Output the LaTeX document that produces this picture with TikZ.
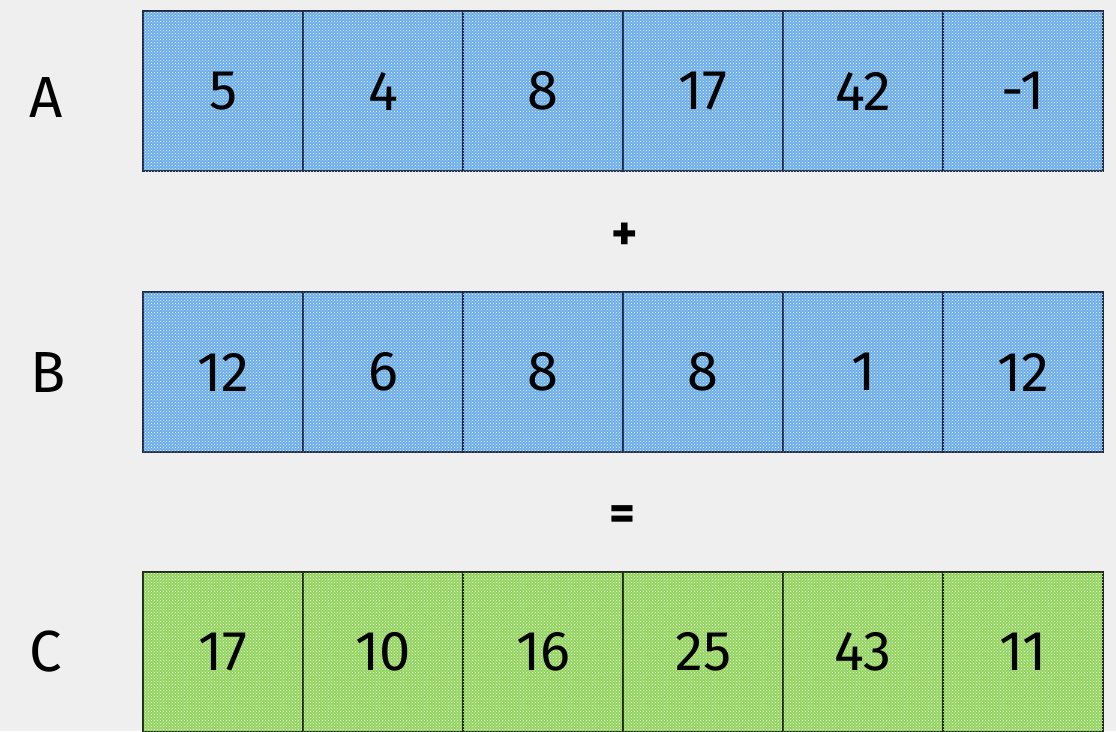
\documentclass[tikz,border=0pt]{standalone}
\usepackage{fontspec}
\setmainfont{Fira Sans}
\usetikzlibrary{patterns}
\definecolor{bg}{HTML}{EFEFEF}
\definecolor{bluefill}{HTML}{6DADEA}
\definecolor{greenfill}{HTML}{93D45F}
\definecolor{blueedge}{HTML}{1C2A48}
\definecolor{greenedge}{HTML}{1E2A16}
\tikzset{
  cellbox/.style={minimum width=160pt, minimum height=160pt, inner sep=0pt, line width=2.4pt,
    font=\fontsize{56}{60}\selectfont, text=black, anchor=north west},
  bluecell/.style={cellbox, draw=blueedge, fill=bluefill, postaction={pattern=crosshatch dots, pattern color=white!85!bluefill}},
  greencell/.style={cellbox, draw=greenedge, fill=greenfill, postaction={pattern=crosshatch dots, pattern color=white!85!greenfill}},
  rowlabel/.style={font=\fontsize{58}{60}\selectfont, text=black},
  opsign/.style={font=\fontsize{50}{54}\selectfont\bfseries, text=black}
}
\begin{document}
\begin{tikzpicture}[x=1pt,y=-1pt]
\useasboundingbox[fill=bg] (0,0) rectangle (1116,731);
\foreach \v [count=\i] in {5,4,8,17,42,-1}{
  \node[bluecell] (a\i) at ({142+160*(\i-1)},10) {\v};
}
\foreach \v [count=\i] in {12,6,8,8,1,12}{
  \node[bluecell] (b\i) at ({142+160*(\i-1)},291) {\v};
}
\foreach \v [count=\i] in {17,10,16,25,43,11}{
  \node[greencell] (c\i) at ({142+160*(\i-1)},571) {\v};
}
\node[rowlabel] (la) at (46,98) {A};
\node[rowlabel] (lb) at (48,373) {B};
\node[rowlabel] (lc) at (46,652) {C};
\node[opsign] (plus) at (625,237) {+};
\node[opsign] (eq) at (622,518) {=};
\end{tikzpicture}
\end{document}
